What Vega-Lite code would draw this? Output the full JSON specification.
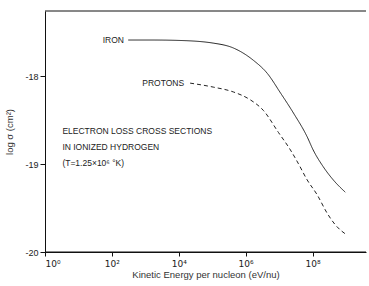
{
  "$schema": "https://vega.github.io/schema/vega-lite/v6.json",
  "width": 321,
  "height": 241,
  "autosize": "none",
  "padding": {"left": 45, "top": 11, "right": 3, "bottom": 34},
  "background": "white",
  "config": {
    "view": {"stroke": null},
    "font": "Liberation Sans",
    "axis": {"grid": false, "domainColor": "#111", "tickColor": "#111", "labelColor": "#222", "titleColor": "#333", "labelFont": "Liberation Sans", "titleFont": "Liberation Sans", "titleFontWeight": "normal"}
  },
  "datasets": {
    "curves": [
      {"series": "IRON", "logE": 2.49, "logSigma": -17.59},
      {"series": "IRON", "logE": 3.2, "logSigma": -17.59},
      {"series": "IRON", "logE": 4.04, "logSigma": -17.595},
      {"series": "IRON", "logE": 5.03, "logSigma": -17.625},
      {"series": "IRON", "logE": 5.63, "logSigma": -17.68},
      {"series": "IRON", "logE": 6.23, "logSigma": -17.82},
      {"series": "IRON", "logE": 6.65, "logSigma": -17.97},
      {"series": "IRON", "logE": 7.04, "logSigma": -18.19},
      {"series": "IRON", "logE": 7.43, "logSigma": -18.42},
      {"series": "IRON", "logE": 7.84, "logSigma": -18.69},
      {"series": "IRON", "logE": 8.02, "logSigma": -18.84},
      {"series": "IRON", "logE": 8.32, "logSigma": -19.03},
      {"series": "IRON", "logE": 8.62, "logSigma": -19.18},
      {"series": "IRON", "logE": 8.98, "logSigma": -19.32},
      {"series": "PROTONS", "logE": 4.34, "logSigma": -18.08},
      {"series": "PROTONS", "logE": 5.03, "logSigma": -18.125},
      {"series": "PROTONS", "logE": 5.63, "logSigma": -18.18},
      {"series": "PROTONS", "logE": 6.14, "logSigma": -18.27},
      {"series": "PROTONS", "logE": 6.53, "logSigma": -18.39},
      {"series": "PROTONS", "logE": 6.98, "logSigma": -18.64},
      {"series": "PROTONS", "logE": 7.34, "logSigma": -18.84},
      {"series": "PROTONS", "logE": 7.57, "logSigma": -18.99},
      {"series": "PROTONS", "logE": 7.84, "logSigma": -19.18},
      {"series": "PROTONS", "logE": 8.14, "logSigma": -19.35},
      {"series": "PROTONS", "logE": 8.44, "logSigma": -19.56},
      {"series": "PROTONS", "logE": 8.68, "logSigma": -19.69},
      {"series": "PROTONS", "logE": 9.04, "logSigma": -19.81}
    ],
    "frame": [
      {"edge": "top", "x0": 0, "x1": 9.6, "y": -17.26},
      {"edge": "bottom", "x0": 0, "x1": 9.6, "y": -20}
    ],
    "labels": [
      {"text": "IRON", "logE": 2.42, "logSigma": -17.59},
      {"text": "PROTONS", "logE": 4.22, "logSigma": -18.08}
    ],
    "notes": [
      {"text": "ELECTRON LOSS CROSS SECTIONS", "logE": 0.52, "logSigma": -18.625},
      {"text": "IN IONIZED HYDROGEN", "logE": 0.52, "logSigma": -18.81},
      {"text": "(T=1.25×10⁶ °K)", "logE": 0.52, "logSigma": -18.99}
    ]
  },
  "layer": [
    {
      "data": {"name": "curves"},
      "mark": {"type": "line", "interpolate": "monotone", "color": "#222", "strokeWidth": 1},
      "encoding": {
        "x": {
          "field": "logE", "type": "quantitative",
          "scale": {"domain": [0, 9.6], "nice": false, "zero": false},
          "axis": {
            "orient": "bottom", "values": [0,1,2,3,4,5,6,7,8,9],
            "labelExpr": "'10' + ['⁰','¹','²','³','⁴','⁵','⁶','⁷','⁸','⁹'][datum.value]",
            "tickSize": 4, "labelPadding": 3, "labelFontSize": 9, "labelFont": "DejaVu Sans",
            "title": "Kinetic Energy per nucleon (eV/nu)", "titleFontSize": 9.5, "titlePadding": 1
          }
        },
        "y": {
          "field": "logSigma", "type": "quantitative",
          "scale": {"domain": [-20, -17.26], "nice": false, "zero": false},
          "axis": {
            "values": [-18, -19, -20], "labelExpr": "'-' + abs(datum.value)",
            "tickSize": 5, "labelPadding": 2, "labelFontSize": 9,
            "title": "log σ (cm²)", "titleFontSize": 9.5, "titlePadding": 10
          }
        },
        "detail": {"field": "series"},
        "strokeDash": {
          "field": "series", "type": "nominal",
          "scale": {"domain": ["IRON", "PROTONS"], "range": [[1, 0], [4, 3]]},
          "legend": null
        }
      }
    },
    {
      "data": {"name": "frame"},
      "mark": {"type": "rule", "color": "#111", "strokeWidth": 1},
      "encoding": {
        "x": {"field": "x0", "type": "quantitative"},
        "x2": {"field": "x1"},
        "y": {"field": "y", "type": "quantitative"}
      }
    },
    {
      "data": {"name": "labels"},
      "mark": {"type": "text", "align": "right", "baseline": "middle", "fontSize": 8.5, "color": "#222", "dx": -2},
      "encoding": {
        "x": {"field": "logE", "type": "quantitative"},
        "y": {"field": "logSigma", "type": "quantitative"},
        "text": {"field": "text"}
      }
    },
    {
      "data": {"name": "notes"},
      "mark": {"type": "text", "align": "left", "baseline": "middle", "fontSize": 8.5, "color": "#222", "letterSpacing": 0.6},
      "encoding": {
        "x": {"field": "logE", "type": "quantitative"},
        "y": {"field": "logSigma", "type": "quantitative"},
        "text": {"field": "text"}
      }
    }
  ]
}
